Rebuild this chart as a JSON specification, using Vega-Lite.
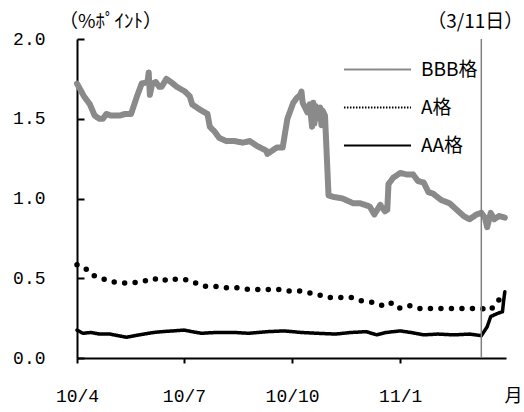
{
  "$schema": "https://vega.github.io/schema/vega-lite/v6.json",
  "width": 429,
  "height": 319,
  "autosize": {"type": "none"},
  "padding": {"left": 77, "top": 39, "right": 18, "bottom": 54},
  "background": "white",
  "config": {"view": {"stroke": null}, "font": "Noto Sans CJK JP"},
  "datasets": {
    "lines": [
      {"date": "2010-04-01", "series": "BBB格", "value": 1.72},
      {"date": "2010-04-04", "series": "BBB格", "value": 1.68},
      {"date": "2010-04-07", "series": "BBB格", "value": 1.64},
      {"date": "2010-04-12", "series": "BBB格", "value": 1.59},
      {"date": "2010-04-16", "series": "BBB格", "value": 1.52},
      {"date": "2010-04-20", "series": "BBB格", "value": 1.50},
      {"date": "2010-04-23", "series": "BBB格", "value": 1.50},
      {"date": "2010-04-26", "series": "BBB格", "value": 1.53},
      {"date": "2010-04-30", "series": "BBB格", "value": 1.52},
      {"date": "2010-05-07", "series": "BBB格", "value": 1.52},
      {"date": "2010-05-12", "series": "BBB格", "value": 1.53},
      {"date": "2010-05-17", "series": "BBB格", "value": 1.53},
      {"date": "2010-05-22", "series": "BBB格", "value": 1.64},
      {"date": "2010-05-26", "series": "BBB格", "value": 1.72},
      {"date": "2010-05-31", "series": "BBB格", "value": 1.73},
      {"date": "2010-06-01", "series": "BBB格", "value": 1.79},
      {"date": "2010-06-02", "series": "BBB格", "value": 1.65},
      {"date": "2010-06-04", "series": "BBB格", "value": 1.72},
      {"date": "2010-06-07", "series": "BBB格", "value": 1.73},
      {"date": "2010-06-10", "series": "BBB格", "value": 1.70},
      {"date": "2010-06-12", "series": "BBB格", "value": 1.70},
      {"date": "2010-06-16", "series": "BBB格", "value": 1.75},
      {"date": "2010-06-20", "series": "BBB格", "value": 1.73},
      {"date": "2010-06-25", "series": "BBB格", "value": 1.70},
      {"date": "2010-07-02", "series": "BBB格", "value": 1.67},
      {"date": "2010-07-06", "series": "BBB格", "value": 1.64},
      {"date": "2010-07-08", "series": "BBB格", "value": 1.59},
      {"date": "2010-07-14", "series": "BBB格", "value": 1.56},
      {"date": "2010-07-21", "series": "BBB格", "value": 1.53},
      {"date": "2010-07-23", "series": "BBB格", "value": 1.45},
      {"date": "2010-07-27", "series": "BBB格", "value": 1.42},
      {"date": "2010-07-31", "series": "BBB格", "value": 1.38},
      {"date": "2010-08-06", "series": "BBB格", "value": 1.36},
      {"date": "2010-08-13", "series": "BBB格", "value": 1.36},
      {"date": "2010-08-20", "series": "BBB格", "value": 1.35},
      {"date": "2010-08-26", "series": "BBB格", "value": 1.36},
      {"date": "2010-09-01", "series": "BBB格", "value": 1.33},
      {"date": "2010-09-09", "series": "BBB格", "value": 1.30},
      {"date": "2010-09-10", "series": "BBB格", "value": 1.28},
      {"date": "2010-09-14", "series": "BBB格", "value": 1.30},
      {"date": "2010-09-18", "series": "BBB格", "value": 1.32},
      {"date": "2010-09-23", "series": "BBB格", "value": 1.32},
      {"date": "2010-09-27", "series": "BBB格", "value": 1.50},
      {"date": "2010-10-02", "series": "BBB格", "value": 1.60},
      {"date": "2010-10-05", "series": "BBB格", "value": 1.63},
      {"date": "2010-10-08", "series": "BBB格", "value": 1.65},
      {"date": "2010-10-09", "series": "BBB格", "value": 1.67},
      {"date": "2010-10-10", "series": "BBB格", "value": 1.60},
      {"date": "2010-10-14", "series": "BBB格", "value": 1.54},
      {"date": "2010-10-16", "series": "BBB格", "value": 1.59},
      {"date": "2010-10-18", "series": "BBB格", "value": 1.45},
      {"date": "2010-10-19", "series": "BBB格", "value": 1.60},
      {"date": "2010-10-20", "series": "BBB格", "value": 1.47},
      {"date": "2010-10-21", "series": "BBB格", "value": 1.58},
      {"date": "2010-10-22", "series": "BBB格", "value": 1.50},
      {"date": "2010-10-25", "series": "BBB格", "value": 1.57},
      {"date": "2010-10-26", "series": "BBB格", "value": 1.46},
      {"date": "2010-10-27", "series": "BBB格", "value": 1.55},
      {"date": "2010-10-29", "series": "BBB格", "value": 1.52},
      {"date": "2010-11-01", "series": "BBB格", "value": 1.02},
      {"date": "2010-11-05", "series": "BBB格", "value": 1.01},
      {"date": "2010-11-13", "series": "BBB格", "value": 1.00},
      {"date": "2010-11-22", "series": "BBB格", "value": 0.97},
      {"date": "2010-11-28", "series": "BBB格", "value": 0.97},
      {"date": "2010-12-02", "series": "BBB格", "value": 0.96},
      {"date": "2010-12-06", "series": "BBB格", "value": 0.95},
      {"date": "2010-12-10", "series": "BBB格", "value": 0.90},
      {"date": "2010-12-15", "series": "BBB格", "value": 0.96},
      {"date": "2010-12-19", "series": "BBB格", "value": 0.92},
      {"date": "2010-12-21", "series": "BBB格", "value": 0.93},
      {"date": "2010-12-22", "series": "BBB格", "value": 1.09},
      {"date": "2010-12-26", "series": "BBB格", "value": 1.13},
      {"date": "2011-01-01", "series": "BBB格", "value": 1.16},
      {"date": "2011-01-07", "series": "BBB格", "value": 1.15},
      {"date": "2011-01-12", "series": "BBB格", "value": 1.15},
      {"date": "2011-01-16", "series": "BBB格", "value": 1.11},
      {"date": "2011-01-21", "series": "BBB格", "value": 1.10},
      {"date": "2011-01-25", "series": "BBB格", "value": 1.04},
      {"date": "2011-01-29", "series": "BBB格", "value": 1.03},
      {"date": "2011-02-05", "series": "BBB格", "value": 0.99},
      {"date": "2011-02-12", "series": "BBB格", "value": 0.97},
      {"date": "2011-02-18", "series": "BBB格", "value": 0.93},
      {"date": "2011-02-24", "series": "BBB格", "value": 0.89},
      {"date": "2011-03-01", "series": "BBB格", "value": 0.87},
      {"date": "2011-03-07", "series": "BBB格", "value": 0.90},
      {"date": "2011-03-11", "series": "BBB格", "value": 0.91},
      {"date": "2011-03-13", "series": "BBB格", "value": 0.89},
      {"date": "2011-03-14", "series": "BBB格", "value": 0.88},
      {"date": "2011-03-16", "series": "BBB格", "value": 0.82},
      {"date": "2011-03-19", "series": "BBB格", "value": 0.91},
      {"date": "2011-03-22", "series": "BBB格", "value": 0.87},
      {"date": "2011-03-26", "series": "BBB格", "value": 0.89},
      {"date": "2011-03-31", "series": "BBB格", "value": 0.88},

      {"date": "2010-04-01", "series": "A格", "value": 0.585},
      {"date": "2010-04-07", "series": "A格", "value": 0.57},
      {"date": "2010-04-14", "series": "A格", "value": 0.52},
      {"date": "2010-04-22", "series": "A格", "value": 0.50},
      {"date": "2010-04-29", "series": "A格", "value": 0.48},
      {"date": "2010-05-09", "series": "A格", "value": 0.47},
      {"date": "2010-05-18", "series": "A格", "value": 0.47},
      {"date": "2010-05-27", "series": "A格", "value": 0.48},
      {"date": "2010-06-05", "series": "A格", "value": 0.50},
      {"date": "2010-06-12", "series": "A格", "value": 0.48},
      {"date": "2010-06-19", "series": "A格", "value": 0.50},
      {"date": "2010-06-26", "series": "A格", "value": 0.49},
      {"date": "2010-07-04", "series": "A格", "value": 0.49},
      {"date": "2010-07-11", "series": "A格", "value": 0.47},
      {"date": "2010-07-18", "series": "A格", "value": 0.45},
      {"date": "2010-07-27", "series": "A格", "value": 0.45},
      {"date": "2010-08-06", "series": "A格", "value": 0.44},
      {"date": "2010-08-16", "series": "A格", "value": 0.44},
      {"date": "2010-08-25", "series": "A格", "value": 0.43},
      {"date": "2010-09-02", "series": "A格", "value": 0.43},
      {"date": "2010-09-11", "series": "A格", "value": 0.43},
      {"date": "2010-09-19", "series": "A格", "value": 0.43},
      {"date": "2010-09-26", "series": "A格", "value": 0.42},
      {"date": "2010-10-07", "series": "A格", "value": 0.42},
      {"date": "2010-10-14", "series": "A格", "value": 0.41},
      {"date": "2010-10-22", "series": "A格", "value": 0.40},
      {"date": "2010-10-30", "series": "A格", "value": 0.38},
      {"date": "2010-11-10", "series": "A格", "value": 0.38},
      {"date": "2010-11-20", "series": "A格", "value": 0.38},
      {"date": "2010-11-28", "series": "A格", "value": 0.36},
      {"date": "2010-12-08", "series": "A格", "value": 0.35},
      {"date": "2010-12-16", "series": "A格", "value": 0.33},
      {"date": "2010-12-23", "series": "A格", "value": 0.35},
      {"date": "2010-12-30", "series": "A格", "value": 0.31},
      {"date": "2011-01-08", "series": "A格", "value": 0.33},
      {"date": "2011-01-17", "series": "A格", "value": 0.31},
      {"date": "2011-01-25", "series": "A格", "value": 0.31},
      {"date": "2011-02-04", "series": "A格", "value": 0.31},
      {"date": "2011-02-14", "series": "A格", "value": 0.31},
      {"date": "2011-02-23", "series": "A格", "value": 0.31},
      {"date": "2011-03-03", "series": "A格", "value": 0.31},
      {"date": "2011-03-12", "series": "A格", "value": 0.31},
      {"date": "2011-03-19", "series": "A格", "value": 0.30},
      {"date": "2011-03-24", "series": "A格", "value": 0.35},
      {"date": "2011-03-31", "series": "A格", "value": 0.40},

      {"date": "2010-04-01", "series": "AA格", "value": 0.175},
      {"date": "2010-04-06", "series": "AA格", "value": 0.155},
      {"date": "2010-04-13", "series": "AA格", "value": 0.16},
      {"date": "2010-04-20", "series": "AA格", "value": 0.15},
      {"date": "2010-04-29", "series": "AA格", "value": 0.15},
      {"date": "2010-05-06", "series": "AA格", "value": 0.14},
      {"date": "2010-05-13", "series": "AA格", "value": 0.13},
      {"date": "2010-05-24", "series": "AA格", "value": 0.145},
      {"date": "2010-06-05", "series": "AA格", "value": 0.16},
      {"date": "2010-06-12", "series": "AA格", "value": 0.165},
      {"date": "2010-06-22", "series": "AA格", "value": 0.17},
      {"date": "2010-07-01", "series": "AA格", "value": 0.175},
      {"date": "2010-07-08", "series": "AA格", "value": 0.165},
      {"date": "2010-07-16", "series": "AA格", "value": 0.155},
      {"date": "2010-07-28", "series": "AA格", "value": 0.16},
      {"date": "2010-08-13", "series": "AA格", "value": 0.16},
      {"date": "2010-08-25", "series": "AA格", "value": 0.155},
      {"date": "2010-09-10", "series": "AA格", "value": 0.165},
      {"date": "2010-09-24", "series": "AA格", "value": 0.17},
      {"date": "2010-10-09", "series": "AA格", "value": 0.16},
      {"date": "2010-10-22", "series": "AA格", "value": 0.155},
      {"date": "2010-11-07", "series": "AA格", "value": 0.15},
      {"date": "2010-11-20", "series": "AA格", "value": 0.16},
      {"date": "2010-12-03", "series": "AA格", "value": 0.165},
      {"date": "2010-12-12", "series": "AA格", "value": 0.145},
      {"date": "2010-12-20", "series": "AA格", "value": 0.16},
      {"date": "2011-01-01", "series": "AA格", "value": 0.17},
      {"date": "2011-01-10", "series": "AA格", "value": 0.16},
      {"date": "2011-01-21", "series": "AA格", "value": 0.145},
      {"date": "2011-02-02", "series": "AA格", "value": 0.15},
      {"date": "2011-02-16", "series": "AA格", "value": 0.145},
      {"date": "2011-03-01", "series": "AA格", "value": 0.15},
      {"date": "2011-03-11", "series": "AA格", "value": 0.14},
      {"date": "2011-03-16", "series": "AA格", "value": 0.196},
      {"date": "2011-03-19", "series": "AA格", "value": 0.26},
      {"date": "2011-03-25", "series": "AA格", "value": 0.28},
      {"date": "2011-03-29", "series": "AA格", "value": 0.29},
      {"date": "2011-03-30", "series": "AA格", "value": 0.36},
      {"date": "2011-03-31", "series": "AA格", "value": 0.415}
    ],
    "event": [
      {"date": "2011-03-11", "label": "（3/11日）"}
    ]
  },
  "layer": [
    {
      "data": {"name": "lines"},
      "transform": [{"filter": "datum.series !== 'A格'"}],
      "mark": {"type": "line", "strokeCap": "round", "strokeJoin": "round"},
      "encoding": {
        "x": {
          "field": "date", "type": "temporal",
          "scale": {"type": "utc", "domain": [{"year": 2010, "month": 4, "date": 1, "utc": true}, {"year": 2011, "month": 4, "date": 1, "utc": true}]},
          "axis": {
            "values": [
              {"year": 2010, "month": 4, "date": 1, "utc": true},
              {"year": 2010, "month": 7, "date": 1, "utc": true},
              {"year": 2010, "month": 10, "date": 1, "utc": true},
              {"year": 2011, "month": 1, "date": 1, "utc": true}
            ],
            "labelExpr": "utcFormat(datum.value, '%y/%-m')",
            "labelFlush": false,
            "labelFont": "Liberation Mono", "labelFontSize": 18, "labelColor": "black",
            "labelPadding": 24,
            "tickSize": 5, "tickWidth": 2, "tickColor": "black",
            "domainColor": "black", "domainWidth": 2,
            "grid": false,
            "title": "月", "titleFont": "Noto Sans CJK JP", "titleFontSize": 18, "titleFontWeight": "normal", "titleColor": "black",
            "titleX": 436, "titleY": 29, "titleAlign": "center", "titleBaseline": "top"
          }
        },
        "y": {
          "field": "value", "type": "quantitative",
          "scale": {"domain": [0, 2], "nice": false},
          "axis": {
            "values": [0, 0.5, 1, 1.5, 2],
            "format": ".1f",
            "labelFont": "Liberation Mono", "labelFontSize": 18, "labelColor": "black",
            "labelPadding": 39,
            "tickSize": -7, "tickWidth": 2, "tickColor": "black",
            "domainColor": "black", "domainWidth": 2,
            "grid": false,
            "title": "（%ﾎﾟｲﾝﾄ）", "titleFont": "Noto Sans CJK JP", "titleFontSize": 19, "titleFontWeight": "normal", "titleColor": "black",
            "titleAngle": 0, "titleX": 33, "titleY": -18, "titleAlign": "center", "titleBaseline": "middle"
          }
        },
        "color": {
          "field": "series", "type": "nominal",
          "scale": {"domain": ["BBB格", "A格", "AA格"], "range": ["#8a8a8a", "#000000", "#000000"]},
          "legend": {
            "title": null, "orient": "none", "legendX": 288, "legendY": 18,
            "symbolType": "M-3,0H3", "symbolSize": 500, "symbolStrokeWidth": 2,
            "labelFont": "Noto Sans CJK JP", "labelFontSize": 19, "labelColor": "black",
            "labelOffset": 31, "rowPadding": 15
          }
        },
        "strokeDash": {
          "field": "series", "type": "nominal",
          "scale": {"domain": ["BBB格", "A格", "AA格"], "range": [[1, 0], [1.5, 1.5], [1, 0]]},
          "legend": {
            "title": null, "orient": "none", "legendX": 288, "legendY": 18,
            "symbolType": "M-3,0H3", "symbolSize": 500, "symbolStrokeWidth": 2,
            "labelFont": "Noto Sans CJK JP", "labelFontSize": 19, "labelColor": "black",
            "labelOffset": 31, "rowPadding": 15
          }
        },
        "strokeWidth": {"condition": {"test": "datum.series === 'BBB格'", "value": 6}, "value": 3.5}
      }
    },
    {
      "data": {"name": "lines"},
      "transform": [{"filter": "datum.series === 'A格'"}],
      "mark": {"type": "line", "color": "black", "strokeDash": [0, 10.5], "strokeCap": "round", "strokeWidth": 5.5},
      "encoding": {
        "x": {"field": "date", "type": "temporal"},
        "y": {"field": "value", "type": "quantitative"}
      }
    },
    {
      "data": {"name": "event"},
      "mark": {"type": "rule", "color": "#808080", "strokeWidth": 1.5},
      "encoding": {
        "x": {"field": "date", "type": "temporal"}
      }
    },
    {
      "data": {"name": "event"},
      "mark": {"type": "text", "fontSize": 19, "font": "Noto Sans CJK JP", "color": "black", "align": "center", "baseline": "middle", "dx": -6, "dy": -17},
      "encoding": {
        "x": {"field": "date", "type": "temporal"},
        "y": {"datum": 2},
        "text": {"field": "label"}
      }
    }
  ]
}
